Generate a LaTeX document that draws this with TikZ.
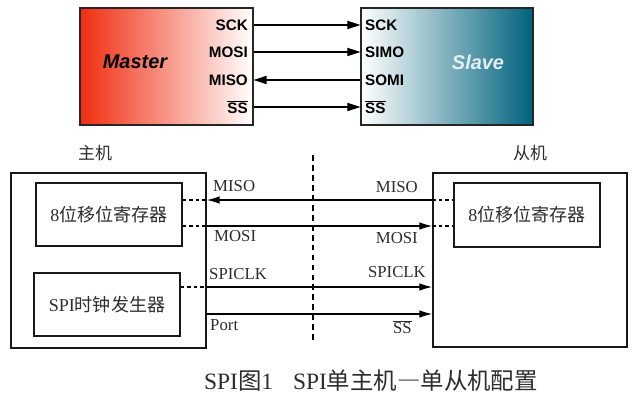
\documentclass[tikz,border=0pt]{standalone}
\usepackage{fontspec}
\setmainfont{Liberation Serif}
\newfontfamily\cjk{Noto Sans CJK SC}
\newfontfamily\arialfont{Liberation Sans}
\usetikzlibrary{arrows.meta}
\definecolor{masterred}{RGB}{240,45,15}
\definecolor{slaveteal}{RGB}{0,98,124}
\definecolor{slavetext}{RGB}{226,238,246}
\definecolor{inkgray}{RGB}{45,45,45}
\tikzset{
  chip/.style={draw=black!85, line width=1.1pt, minimum width=#1, minimum height=3.51cm},
  pinlbl/.style={font=\arialfont\bfseries\fontsize{13}{13}\selectfont, inner sep=0pt},
  toparrow/.style={line width=0.9pt, -{Triangle[length=11pt,width=7pt]}},
  hostbox/.style={draw=black!90, line width=1.3pt, minimum width=#1},
  siglbl/.style={font=\fontsize{14.3}{14.3}\selectfont, text=inkgray, inner sep=0pt},
  cjklbl/.style={font=\cjk\fontsize{14.5}{14.5}\selectfont, text=inkgray, inner sep=0pt},
  sigline/.style={line width=1.1pt},
  dotline/.style={line width=1.1pt, dash pattern=on 3pt off 2.5pt},
  sigarrow/.style={line width=1.1pt, -{Latex[length=11pt,width=6.5pt]}}
}
\begin{document}
\begin{tikzpicture}[x=0.03cm,y=-0.03cm]
\useasboundingbox (0,0) rectangle (644,401);
% top: master / slave blocks
\node[chip=5.19cm, left color=masterred, middle color=masterred!75!white, right color=white] (master) at (166.5,66.5) {};
\node[chip=5.16cm, left color=white, middle color=slaveteal!72!white, right color=slaveteal] (slave) at (447,66.5) {};
\node[font=\arialfont\bfseries\itshape\fontsize{17}{17}\selectfont] (mname) at (135,62) {Master};
\node[font=\arialfont\bfseries\itshape\fontsize{17}{17}\selectfont, text=slavetext] (sname) at (478,62) {Slave};
\node[pinlbl, anchor=east] (msck) at (248,25) {SCK};
\node[pinlbl, anchor=east] (mmosi) at (248,52) {MOSI};
\node[pinlbl, anchor=east] (mmiso) at (248,80) {MISO};
\node[pinlbl, anchor=east] (mss) at (248,107) {$\overline{\hbox{SS}}$};
\node[pinlbl, anchor=west] (ssck) at (365,25) {SCK};
\node[pinlbl, anchor=west] (ssimo) at (365,52) {SIMO};
\node[pinlbl, anchor=west] (ssomi) at (365,80) {SOMI};
\node[pinlbl, anchor=west] (sss) at (365,107) {$\overline{\hbox{SS}}$};
\draw[toparrow] (msck -| master.east) -- (ssck -| slave.west);
\draw[toparrow] (mmosi -| master.east) -- (ssimo -| slave.west);
\draw[toparrow] (ssomi -| slave.west) -- (mmiso -| master.east);
\draw[toparrow] (mss -| master.east) -- (sss -| slave.west);
% bottom: host and slave configuration
\node[hostbox=5.85cm, minimum height=5.25cm] (mhost) at (108.5,260.5) {};
\node[hostbox=4.38cm, minimum height=1.89cm] (mreg) at (109,214.5) {};
\node[hostbox=4.38cm, minimum height=1.89cm] (mclk) at (107,304.5) {};
\node[hostbox=5.82cm, minimum height=5.22cm] (shost) at (530,260) {};
\node[hostbox=4.38cm, minimum height=1.92cm] (sreg) at (527,215) {};
\node[cjklbl] (mtitle) at (95,153) {主机};
\node[cjklbl] (stitle) at (530,153) {从机};
\node[cjklbl] at (mreg) {\fontsize{15.4}{15.4}\selectfont\rmfamily 8{\cjk 位移位寄存器}};
\node[cjklbl] at (sreg) {\fontsize{15.4}{15.4}\selectfont\rmfamily 8{\cjk 位移位寄存器}};
\node[cjklbl] at (mclk) {\fontsize{15.4}{15.4}\selectfont\rmfamily SPI{\cjk 时钟发生器}};
\coordinate (ymiso) at (0,200);
\coordinate (ymosi) at (0,226);
\coordinate (yclk) at (0,287);
\coordinate (yss) at (0,314);
\draw[line width=1pt, dash pattern=on 5pt off 3.5pt] (313,155) coordinate (vtop) -- (313,340) coordinate (vbot);
\draw[dotline] (mreg.east |- ymiso) -- (mhost.east |- ymiso);
\draw[dotline] (mreg.east |- ymosi) -- (mhost.east |- ymosi);
\draw[dotline] (mclk.east |- yclk) -- (mhost.east |- yclk);
\draw[dotline] (shost.west |- ymiso) -- (sreg.west |- ymiso);
\draw[dotline] (shost.west |- ymosi) -- (sreg.west |- ymosi);
\draw[sigarrow] (shost.west |- ymiso) -- (mhost.east |- ymiso);
\draw[sigarrow] (mhost.east |- ymosi) -- (shost.west |- ymosi);
\draw[sigarrow] (mhost.east |- yclk) -- (shost.west |- yclk);
\draw[sigarrow] (mhost.east |- yss) -- (shost.west |- yss);
\node[siglbl, anchor=west] (lmiso) at (213,186) {MISO};
\node[siglbl, anchor=west] (lmosi) at (214,236) {MOSI};
\node[siglbl, anchor=west] (lclk) at (209,274) {SPICLK};
\node[siglbl, anchor=west] (lport) at (210,325) {Port};
\node[siglbl, anchor=east] (rmiso) at (418,187) {MISO};
\node[siglbl, anchor=east] (rmosi) at (418,238) {MOSI};
\node[siglbl, anchor=east] (rclk) at (426,272) {SPICLK};
\node[siglbl, anchor=east] (rss) at (412,327) {$\overline{\hbox{SS}}$};
% caption
\node[font=\fontsize{20}{20}\selectfont, text=inkgray, inner sep=0pt] (caption) at (371,381) {SPI{\cjk 图}1\hspace{17pt}SPI{\cjk 单主机―单从机配置}};
\end{tikzpicture}
\end{document}
